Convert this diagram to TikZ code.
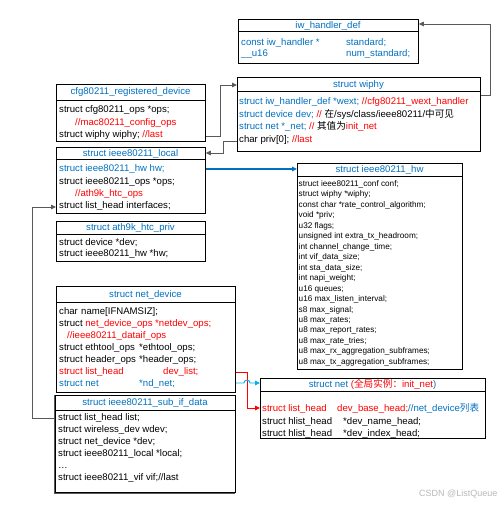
\documentclass[tikz,border=0pt]{standalone}
\usepackage{fontspec}
\setmainfont{Liberation Sans}
\newfontfamily\cjk{Noto Sans CJK SC}
\usetikzlibrary{arrows.meta}
\definecolor{tblue}{HTML}{0070C0}
\definecolor{tred}{HTML}{FF0000}
\definecolor{lgray}{HTML}{595959}
\definecolor{cyanl}{HTML}{00B0F0}
\newcommand\B[1]{\textcolor{tblue}{#1}}
\newcommand\R[1]{\textcolor{tred}{#1}}
\newcommand\Cl[2]{\makebox[#1][l]{#2}}
\begin{document}
\begin{tikzpicture}[x=1pt,y=-1pt,
  box/.style={draw, line width=0.8pt, inner sep=0pt, anchor=north west},
  ln/.style={anchor=base west, inner sep=0pt, yshift=-3.4pt, font=\fontsize{9.6}{11}\selectfont},
  sm/.style={ln, font=\fontsize{8.2}{10}\selectfont},
  ttl/.style={anchor=base, inner sep=0pt, yshift=-3.4pt, font=\fontsize{9.6}{11}\selectfont, text=tblue},
  conn/.style={draw=lgray, line width=0.9pt, -{Triangle[length=5pt,width=4.5pt]}},
]
\useasboundingbox (0,0) rectangle (501,505);
% ---------- boxes ----------
\node[box, minimum width=180pt, minimum height=44pt] (iw) at (238,19) {};
\draw[line width=0.8pt] (iw.west |- 0,31) -- (iw.east |- 0,31);
\node[box, minimum width=243pt, minimum height=74pt] (wiphy) at (237,77) {};
\draw[line width=0.8pt] (wiphy.west |- 0,91) -- (wiphy.east |- 0,91);
\node[box, minimum width=149pt, minimum height=57pt] (cfg) at (56,84) {};
\draw[line width=0.8pt] (cfg.west |- 0,100) -- (cfg.east |- 0,100);
\node[box, minimum width=149pt, minimum height=66pt] (local) at (56,147) {};
\draw[line width=0.8pt] (local.west |- 0,159) -- (local.east |- 0,159);
\node[box, minimum width=149pt, minimum height=40pt] (ath) at (56,221) {};
\draw[line width=0.8pt] (ath.west |- 0,234) -- (ath.east |- 0,234);
\node[box, minimum width=165pt, minimum height=206pt] (hw) at (297,163) {};
\draw[line width=0.8pt] (hw.west |- 0,176) -- (hw.east |- 0,176);
\node[box, minimum width=179pt, minimum height=106pt] (netdev) at (56,286) {};
\draw[line width=0.8pt] (netdev.west |- 0,302) -- (netdev.east |- 0,302);
\draw[lgray, line width=1.4pt] (54.5,394.5) -- (54.5,493) -- (235,493);
\node[box, minimum width=180pt, minimum height=97pt] (subif) at (55,395) {};
\draw[line width=0.8pt] (subif.west |- 0,410) -- (subif.east |- 0,410);
\node[box, minimum width=225pt, minimum height=60pt] (net) at (260,378) {};
\draw[line width=0.8pt] (net.west |- 0,391) -- (net.east |- 0,391);
% ---------- titles ----------
\node[ttl] (iwT) at (328,25) {iw\_handler\_def};
\node[ttl] (wiphyT) at (358.5,84) {struct wiphy};
\node[ttl] (cfgT) at (130.5,91) {cfg80211\_registered\_device};
\node[ttl] (localT) at (130.5,153) {struct ieee80211\_local};
\node[ttl] (athT) at (130.5,227.5) {struct ath9k\_htc\_priv};
\node[ttl] (hwT) at (379.5,169.5) {struct ieee80211\_hw};
\node[ttl] (netdevT) at (145.5,294) {struct net\_device};
\node[ttl] (subifT) at (145,402.5) {struct ieee80211\_sub\_if\_data};
\node[ttl] (netT) at (372.5,384.5) {struct net \R{({\cjk 全局实例：}init\_net}\B{)}};
% ---------- iw_handler_def ----------
\node[ln, text=tblue] (iw1) at (241,42) {\Cl{105pt}{const iw\_handler *}standard;};
\node[ln, text=tblue] (iw2) at (241,53) {\Cl{105pt}{\_\_u16}num\_standard;};
% ---------- wiphy ----------
\node[ln] (wp1) at (239,101) {\B{struct iw\_handler\_def *wext; }\R{//cfg80211\_wext\_handler}};
\node[ln] (wp2) at (239,114) {\B{struct device dev; }\R{// }{\cjk 在}/sys/class/ieee80211/{\cjk 中可见}};
\node[ln] (wp3) at (239,126.5) {\B{struct net *\_net; }\R{// }{\cjk 其值为}\R{init\_net}};
\node[ln] (wp4) at (239,139) {char priv[0]; \R{//last}};
% ---------- cfg80211_registered_device ----------
\node[ln] (cf1) at (59,109) {struct cfg80211\_ops *ops;};
\node[ln, text=tred] (cf2) at (75,122) {//mac80211\_config\_ops};
\node[ln] (cf3) at (59,134) {struct wiphy wiphy; \R{//last}};
% ---------- ieee80211_local ----------
\node[ln, text=tblue] (lo1) at (59,168) {struct ieee80211\_hw hw;};
\node[ln] (lo2) at (59,181) {struct ieee80211\_ops *ops;};
\node[ln, text=tred] (lo3) at (75,193) {//ath9k\_htc\_ops};
\node[ln] (lo4) at (59,205) {struct list\_head interfaces;};
% ---------- ath9k_htc_priv ----------
\node[ln] (at1) at (59,242) {struct device *dev;};
\node[ln] (at2) at (59,253) {struct ieee80211\_hw *hw;};
% ---------- ieee80211_hw ----------
\foreach \t [count=\i from 0] in {
  struct ieee80211\_conf conf;,
  struct wiphy *wiphy;,
  const char *rate\_control\_algorithm;,
  void *priv;,
  u32 flags;,
  unsigned int extra\_tx\_headroom;,
  int channel\_change\_time;,
  int vif\_data\_size;,
  int sta\_data\_size;,
  int napi\_weight;,
  u16 queues;,
  u16 max\_listen\_interval;,
  s8 max\_signal;,
  u8 max\_rates;,
  u8 max\_report\_rates;,
  u8 max\_rate\_tries;,
  u8 max\_rx\_aggregation\_subframes;,
  u8 max\_tx\_aggregation\_subframes;}
  \node[sm] (hw\i) at (298.5,{183+\i*10.47}) {\t};
% ---------- net_device ----------
\node[ln] (nd1) at (59,311) {\Cl{22pt}{char}name[IFNAMSIZ];};
\node[ln] (nd2) at (59,323) {struct \R{net\_device\_ops *netdev\_ops;}};
\node[ln, text=tred] (nd3) at (67,335) {//ieee80211\_dataif\_ops};
\node[ln] (nd4) at (59,347) {\Cl{80pt}{struct ethtool\_ops}*ethtool\_ops;};
\node[ln] (nd5) at (59,359) {\Cl{80pt}{struct header\_ops}*header\_ops;};
\node[ln, text=tred] (nd6) at (59,371) {\Cl{104pt}{struct list\_head}dev\_list;};
\node[ln, text=tblue] (nd7) at (59,383) {\Cl{80pt}{struct net}*nd\_net;};
% ---------- ieee80211_sub_if_data ----------
\node[ln] (si1) at (58,417) {struct list\_head list;};
\node[ln] (si2) at (58,429) {struct wireless\_dev wdev;};
\node[ln] (si3) at (58,441) {struct net\_device *dev;};
\node[ln] (si4) at (58,453) {struct ieee80211\_local *local;};
\node[ln] (si5) at (58,465) {\dots};
\node[ln] (si6) at (58,477) {struct ieee80211\_vif vif;//last};
% ---------- struct net ----------
\node[ln] (ne1) at (262,408) {\R{\Cl{75pt}{struct list\_head}dev\_base\_head;}\B{//net\_device{\cjk 列表}}};
\node[ln] (ne2) at (262,421) {\Cl{81pt}{struct hlist\_head}*dev\_name\_head;};
\node[ln] (ne3) at (262,433) {\Cl{81pt}{struct hlist\_head}*dev\_index\_head;};
% ---------- watermark ----------
\node[anchor=base west, inner sep=0pt, text=black!28, font=\fontsize{9}{10}\selectfont] (wm) at (419,496) {CSDN @ListQueue};
% ---------- connectors ----------
\draw[conn] (wiphy.east |- 0,95) -- (490,95) -- (490,24) -- (iw.east |- 0,24);
\draw[conn] (cfg.east |- 0,136) -- (220,136) -- (220,85) -- (wiphy.west |- 0,85);
\draw[conn] (wiphy.west |- 0,141) -- (223,141) -- (223,153) -- (local.east |- 0,153);
\draw[conn, draw=tblue, line width=1.1pt] (local.east |- 0,169) -- (hw.west |- 0,169);
\draw[conn] (subif.west |- 0,418) -- (32,418) -- (32,207) -- (local.west |- 0,207);
\draw[conn, draw=tred] (netdev.east |- 0,372) -- (247,372) -- (247,408) -- (net.west |- 0,408);
\draw[conn, draw=cyanl] (netdev.east |- 0,383) -- (244,383) arc[start angle=180, end angle=360, radius=3] -- (net.west |- 0,383);
\end{tikzpicture}
\end{document}
